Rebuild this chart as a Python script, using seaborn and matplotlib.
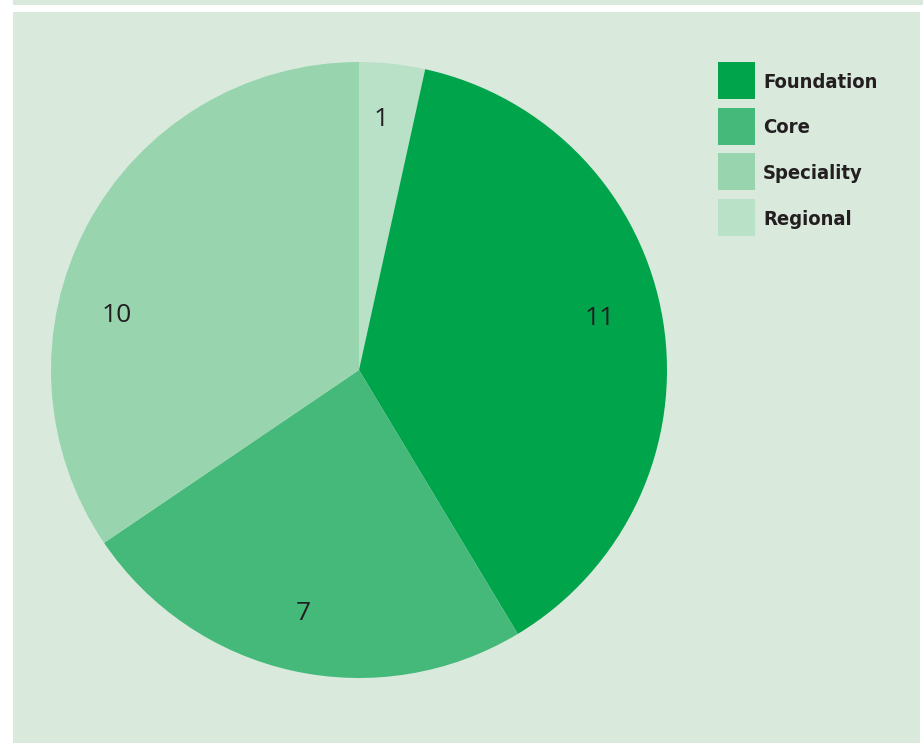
import matplotlib
matplotlib.use("Agg")
import matplotlib.pyplot as plt
from matplotlib.patches import Rectangle
import seaborn as sns

# Data
legend_order = ["Foundation", "Core", "Speciality", "Regional"]
pie_order = ["Regional", "Foundation", "Core", "Speciality"]
values = {"Foundation": 11, "Core": 7, "Speciality": 10, "Regional": 1}
colors = {"Foundation": "#00a44b", "Core": "#45b979", "Speciality": "#98d5ae", "Regional": "#b8e1c7"}
# label anchor positions (layout, in pie radius units)
label_pos = {"Regional": (0.071, 0.813), "Foundation": (0.782, 0.167),
             "Core": (-0.182, -0.790), "Speciality": (-0.786, 0.177)}

sns.set_theme(style="white")
plt.rcParams['font.family'] = ['Open Sans', 'DejaVu Sans']

W, H = 923, 744
fig = plt.figure(figsize=(W / 100, H / 100), dpi=100, facecolor="white")

bg = "#d9eadd"
def px_rect(x0, y0, x1, y1, color, z):
    fig.patches.append(Rectangle((x0 / W, 1 - y1 / H), (x1 - x0) / W, (y1 - y0) / H,
                                 transform=fig.transFigure, facecolor=color,
                                 edgecolor="none", zorder=z))

px_rect(13, 0, W, 5, bg, -2)
px_rect(13, 12, 920, 743, bg, -2)

cx, cy, r = 359, 370, 308
ax = fig.add_axes([(cx - r) / W, (H - cy - r) / H, 2 * r / W, 2 * r / H])
ax.set_zorder(2)
ax.patch.set_visible(False)
vals = [values[k] for k in pie_order]
cols = [colors[k] for k in pie_order]
wedges, texts = ax.pie(vals, colors=cols, startangle=90, counterclock=False,
                       labels=[str(v) for v in vals], labeldistance=0.81,
                       radius=1, wedgeprops=dict(linewidth=0),
                       textprops=dict(fontsize=19, color="#231f20"))
for t, name in zip(texts, pie_order):
    t.set_position(label_pos[name])
    t.set_horizontalalignment("center")
    t.set_verticalalignment("center")
ax.set_xlim(-1, 1)
ax.set_ylim(-1, 1)
ax.set_aspect("equal")
ax.axis("off")

# Legend
x0, y0, size, step = 718, 62, 37, 45.7
for i, name in enumerate(legend_order):
    yt = y0 + i * step
    px_rect(x0, yt, x0 + size, yt + size, colors[name], 3)
    fig.text((x0 + 45) / W, 1 - (yt + size / 2 + 1.5) / H, name, ha="left", va="center",
             fontsize=14.5, fontweight="bold", fontstretch="condensed", color="#231f20",
             family=['DejaVu Sans'], zorder=3)

fig.savefig("out.png", dpi=100, facecolor="white")
